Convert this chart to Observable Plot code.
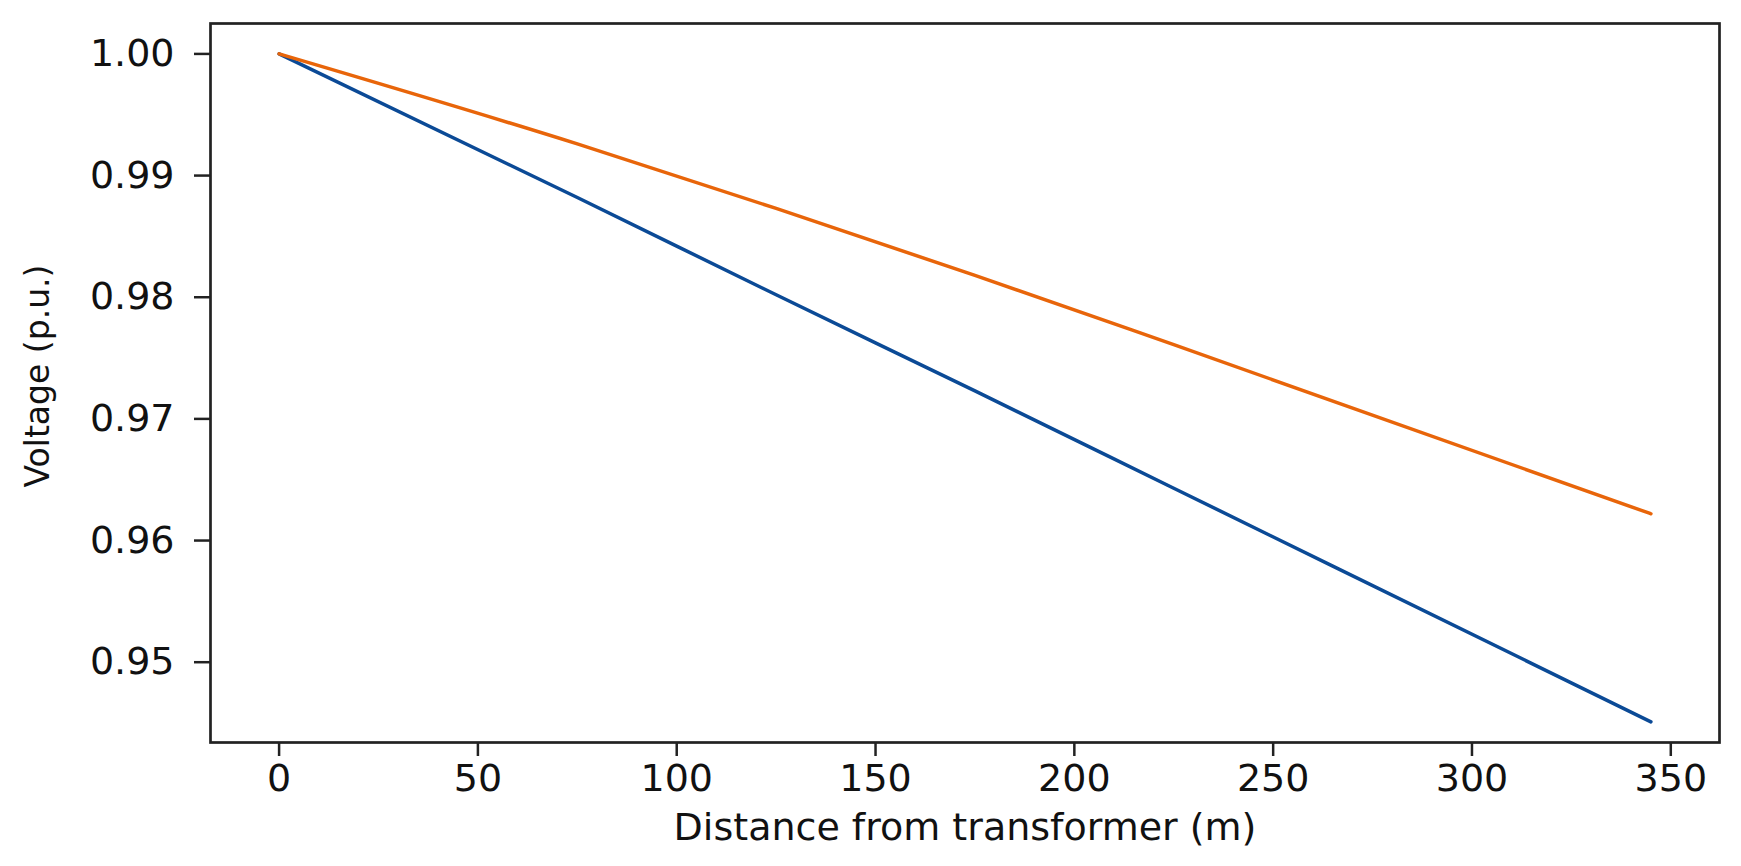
<!DOCTYPE html>
<html>
<head>
<meta charset="utf-8">
<script src="https://cdn.jsdelivr.net/npm/d3@7"></script>
<script src="https://cdn.jsdelivr.net/npm/@observablehq/plot@0.6"></script>
<style>
  html, body { margin: 0; padding: 0; background: #ffffff; }
  #chart svg { display: block; }
</style>
</head>
<body>
<div id="chart"></div>
<script>
// ---- data ----
const seriesNames = ["Case 1", "Case 2"];
const seriesColors = ["#0b4a96", "#e8650a"];

const distanceM = [0, 75, 125, 175, 225, 345];
const voltageCase1 = [1.0, 0.9882, 0.9802, 0.9723, 0.9643, 0.9451]; // blue
const voltageCase2 = [1.0, 0.9926, 0.9873, 0.9818, 0.9761, 0.9622]; // orange

const xTicks = [0, 50, 100, 150, 200, 250, 300, 350];
const yTicks = [0.95, 0.96, 0.97, 0.98, 0.99, 1.00];

const xLabel = "Distance from transformer (m)";
const yLabel = "Voltage (p.u.)";

// table for the library
const rows = [];
distanceM.forEach((d, i) => rows.push({series: seriesNames[0], distance: d, voltage: voltageCase1[i]}));
distanceM.forEach((d, i) => rows.push({series: seriesNames[1], distance: d, voltage: voltageCase2[i]}));

const chart = Plot.plot({
  width: 1741,
  height: 866,
  marginLeft: 210,
  marginRight: 22,
  marginTop: 23,
  marginBottom: 124,
  style: {
    fontFamily: "'DejaVu Sans', 'Liberation Sans', Arial, sans-serif",
    fontSize: "38px",
    color: "#111",
    background: "#ffffff"
  },
  x: {domain: [-17.25, 362.25]},
  y: {domain: [0.9434, 1.0025]},
  color: {domain: seriesNames, range: seriesColors},
  marks: [
    Plot.line(rows, {x: "distance", y: "voltage", z: "series", stroke: "series", strokeWidth: 3.5, curve: "monotone-x"}),
    Plot.frame({stroke: "#222", strokeWidth: 2.7}),
    Plot.axisX(xTicks, {tickSize: 14, tickPadding: 8, stroke: "#222", strokeWidth: 2.5, label: null, fill: "#111"}),
    Plot.axisY(yTicks, {tickSize: 16, tickPadding: 20, stroke: "#222", strokeWidth: 2.5, label: null, fill: "#111", tickFormat: d3.format(".2f")}),
    Plot.text([xLabel], {frameAnchor: "bottom", dy: 97, text: d => d, fill: "#111"}),
    Plot.text([yLabel], {frameAnchor: "left", textAnchor: "middle", lineAnchor: "middle", dx: -172, dy: -7, rotate: -90, fontSize: 33, text: d => d, fill: "#111"})
  ]
});
document.getElementById("chart").appendChild(chart);
</script>
</body>
</html>
